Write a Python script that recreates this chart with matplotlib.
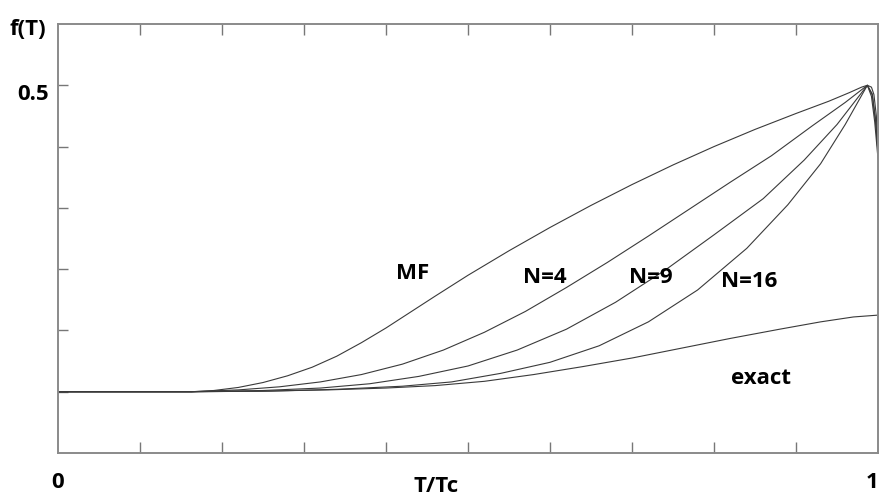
import matplotlib.pyplot as plt
import numpy as np

plt.rcParams['font.family'] = ['Open Sans', 'DejaVu Sans']

# values (T/Tc, f(T))
t_mf = [0, 0.163, 0.19, 0.22, 0.25, 0.28, 0.31, 0.34, 0.37, 0.40, 0.43, 0.46, 0.50,
        0.55, 0.60, 0.65, 0.70, 0.75, 0.80, 0.85, 0.90, 0.94, 0.965, 0.98, 0.987,
        0.992, 0.995, 0.998, 1.0]
f_mf = [0, 0, 0.002, 0.007, 0.015, 0.026, 0.040, 0.058, 0.080, 0.104, 0.130, 0.156, 0.190,
        0.230, 0.268, 0.304, 0.338, 0.370, 0.400, 0.428, 0.454, 0.474, 0.488, 0.497, 0.500,
        0.497, 0.485, 0.45, 0.39]

t_n4 = [0, 0.163, 0.22, 0.27, 0.32, 0.37, 0.42, 0.47, 0.52, 0.57, 0.62, 0.67, 0.72,
        0.77, 0.82, 0.87, 0.92, 0.96, 0.987, 0.993, 0.997, 1.0]
f_n4 = [0, 0, 0.003, 0.008, 0.016, 0.028, 0.045, 0.068, 0.097, 0.131, 0.170, 0.211, 0.254,
        0.298, 0.342, 0.385, 0.434, 0.472, 0.500, 0.486, 0.445, 0.39]

t_n9 = [0, 0.163, 0.25, 0.32, 0.38, 0.44, 0.50, 0.56, 0.62, 0.68, 0.74, 0.80, 0.86,
        0.91, 0.95, 0.987, 0.993, 0.997, 1.0]
f_n9 = [0, 0, 0.002, 0.006, 0.013, 0.025, 0.042, 0.068, 0.102, 0.146, 0.198, 0.256, 0.315,
        0.378, 0.436, 0.500, 0.484, 0.44, 0.39]

t_n16 = [0, 0.163, 0.26, 0.34, 0.42, 0.48, 0.54, 0.60, 0.66, 0.72, 0.78, 0.84, 0.89,
         0.93, 0.96, 0.987, 0.992, 0.996, 1.0]
f_n16 = [0, 0, 0.001, 0.004, 0.009, 0.016, 0.030, 0.048, 0.075, 0.114, 0.166, 0.234, 0.305,
         0.372, 0.436, 0.500, 0.482, 0.44, 0.38]

t_ex = [0, 0.163, 0.25, 0.33, 0.40, 0.46, 0.52, 0.58, 0.64, 0.70, 0.76, 0.82, 0.88,
        0.93, 0.97, 1.0]
f_ex = [0, 0, 0.001, 0.003, 0.006, 0.010, 0.017, 0.028, 0.041, 0.055, 0.071, 0.087, 0.102,
        0.114, 0.122, 0.125]

curve_names = ['MF', 'N=4', 'N=9', 'N=16', 'exact']
name_pos = [(0.433, 0.1935), (0.594, 0.187), (0.723, 0.187), (0.843, 0.180), (0.857, 0.021)]

xtick_vals = [0, 1]
xtick_text = ['0', '1']

fig = plt.figure(figsize=(8.81, 4.97), dpi=100)
ax = fig.add_axes([0.0658, 0.0885, 0.9308, 0.8632])

for t, f in [(t_mf, f_mf), (t_n4, f_n4), (t_n9, f_n9), (t_n16, f_n16), (t_ex, f_ex)]:
    ax.plot(t, f, color='#3a3a3a', lw=0.8)

ax.set_xlim(0, 1)
ax.set_ylim(-0.1, 0.6)

for s in ax.spines.values():
    s.set_color('#8a8a8a')
    s.set_linewidth(1.4)

ax.set_xticks(xtick_vals)
ax.set_xticklabels(xtick_text, fontsize=16, fontweight='bold')
ax.get_xticklabels()[-1].set_horizontalalignment('right')
ax.set_xticks(np.arange(0.1, 0.95, 0.1), minor=True)
ax.set_yticks([])
ax.set_yticks(np.arange(0, 0.55, 0.1), minor=True)
ax.tick_params(axis='x', which='major', length=0, pad=14)
ax.tick_params(axis='x', which='minor', direction='in', length=8, top=True,
               color='#777777', width=1)
ax.tick_params(axis='y', which='minor', direction='in', length=7,
               color='#777777', width=1)

ax.text(-0.011, 0.485, '0.5', ha='right', va='center', fontsize=16, fontweight='bold')
ax.text(-0.037, 0.988, 'f(T)', transform=ax.transAxes, ha='center', va='center',
        fontsize=16, fontweight='bold')
ax.text(0.461, -0.079, 'T/Tc', transform=ax.transAxes, ha='center', va='center',
        fontsize=16, fontweight='bold')

for name, (x, y) in zip(curve_names, name_pos):
    ax.text(x, y, name, ha='center', va='center', fontsize=16, fontweight='bold')

fig.savefig('out.png', dpi=100)
